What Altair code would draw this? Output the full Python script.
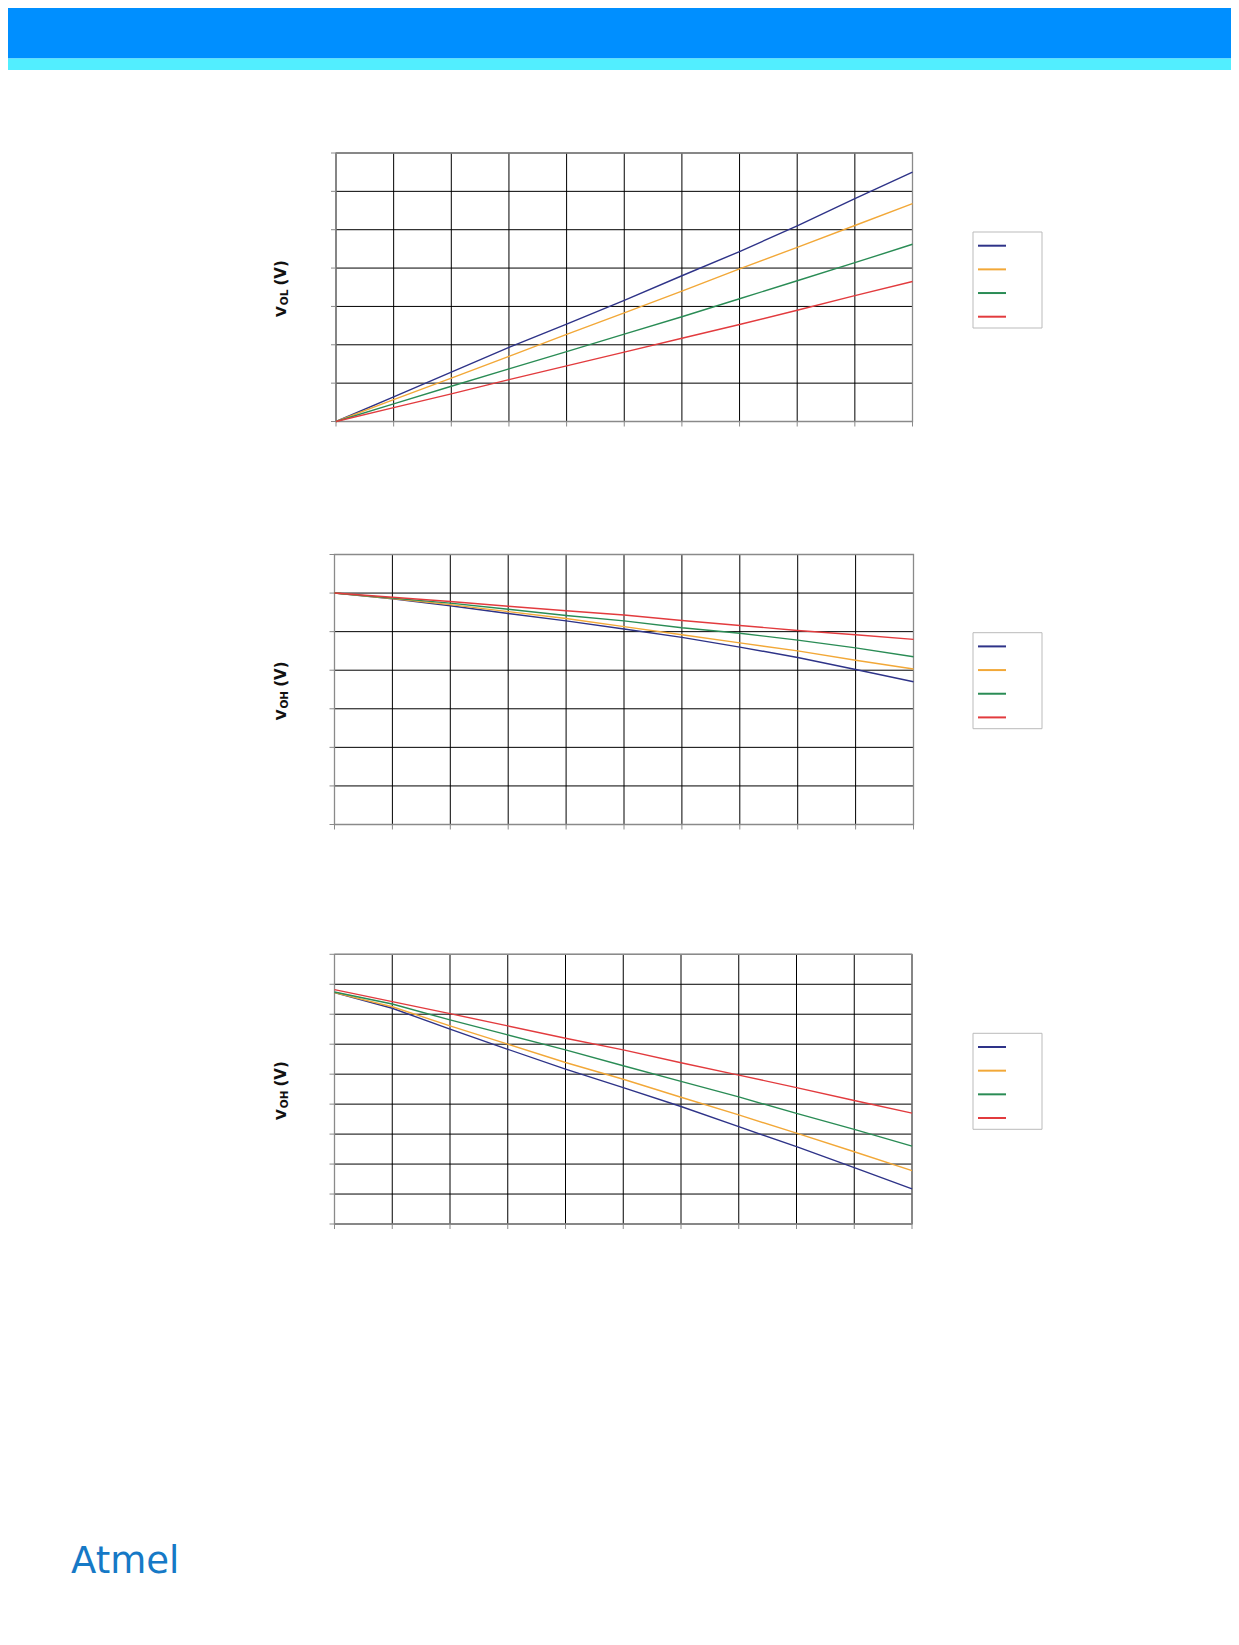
import altair as alt
import pandas as pd

# ---------------- data ----------------
series = ["125 °C", "85 °C", "25 °C", "-40 °C"]
series_idx = [0, 1, 2, 3]
colors = ["#2E3388", "#F2A838", "#2A8C55", "#E23B3E"]

# Chart 1: VOL vs IOL
iol = [0, 2, 4, 6, 8, 10, 12, 14, 16, 18, 20]
vol_125 = [0, 0.064, 0.129, 0.193, 0.254, 0.316, 0.380, 0.443, 0.510, 0.581, 0.650]
vol_85 = [0, 0.057, 0.113, 0.170, 0.227, 0.283, 0.340, 0.398, 0.454, 0.511, 0.568]
vol_25 = [0, 0.046, 0.092, 0.137, 0.182, 0.228, 0.273, 0.320, 0.367, 0.414, 0.462]
vol_m40 = [0, 0.036, 0.072, 0.109, 0.145, 0.181, 0.217, 0.253, 0.290, 0.328, 0.365]
vol_xticks = [0, 2, 4, 6, 8, 10, 12, 14, 16, 18, 20]
vol_yticks = [0, 0.1, 0.2, 0.3, 0.4, 0.5, 0.6, 0.7]

# Chart 2: VOH vs IOH (5 V)
ioh5 = [0, 2, 4, 6, 8, 10, 12, 14, 16, 18, 20]
voh5_125 = [5.0, 4.985, 4.967, 4.947, 4.928, 4.907, 4.885, 4.860, 4.833, 4.802, 4.770]
voh5_85 = [5.0, 4.986, 4.970, 4.952, 4.934, 4.913, 4.892, 4.871, 4.850, 4.826, 4.803]
voh5_25 = [5.0, 4.987, 4.974, 4.958, 4.942, 4.928, 4.910, 4.896, 4.878, 4.858, 4.835]
voh5_m40 = [5.0, 4.989, 4.978, 4.966, 4.954, 4.943, 4.929, 4.916, 4.903, 4.892, 4.880]
voh5_xticks = [0, 2, 4, 6, 8, 10, 12, 14, 16, 18, 20]
voh5_yticks = [4.4, 4.5, 4.6, 4.7, 4.8, 4.9, 5.0, 5.1]

# Chart 3: VOH vs IOH (3 V)
ioh3 = [0, 2, 4, 6, 8, 10, 12, 14, 16, 18, 20]
voh3_125 = [2.972, 2.920, 2.850, 2.783, 2.717, 2.655, 2.592, 2.525, 2.458, 2.388, 2.317]
voh3_85 = [2.972, 2.925, 2.861, 2.800, 2.739, 2.683, 2.623, 2.564, 2.503, 2.441, 2.378]
voh3_25 = [2.974, 2.934, 2.881, 2.831, 2.781, 2.728, 2.676, 2.624, 2.569, 2.516, 2.460]
voh3_m40 = [2.982, 2.942, 2.902, 2.861, 2.820, 2.781, 2.738, 2.697, 2.655, 2.612, 2.570]
voh3_xticks = [0, 2, 4, 6, 8, 10, 12, 14, 16, 18, 20]
voh3_yticks = [2.2, 2.3, 2.4, 2.5, 2.6, 2.7, 2.8, 2.9, 3.0, 3.1]

# ---------------- layout ----------------
W, H = 1223, 1600
OFF = 8  # page margin
GRID = "#000000"
GRAY = "#8A8A8A"
FONT = "DejaVu Sans"

one = pd.DataFrame({"a": [0]})
colsc = alt.Scale(domain=series, range=colors)


def c(v):
    return v - OFF


def long_df(xs, ys_list):
    rows = []
    for s, ys in zip(series, ys_list):
        for x, y in zip(xs, ys):
            rows.append({"x": x, "y": y, "series": s})
    return pd.DataFrame(rows)


def legend_df():
    rows = []
    for s, i in zip(series, series_idx):
        for p in (0, 1):
            rows.append({"series": s, "idx": i, "p": p})
    return pd.DataFrame(rows)


def panel(xs, ys_list, xticks, yticks, box, leg_top, title_sub, title_center):
    x0, x1, yt, yb = [c(v) for v in box]
    xsc = alt.Scale(domain=[xticks[0], xticks[-1]], range=[x0, x1], nice=False, zero=False)
    ysc = alt.Scale(domain=[yticks[0], yticks[-1]], range=[yb, yt], nice=False, zero=False)
    layers = []
    ydf = pd.DataFrame({"v": yticks})
    xdf = pd.DataFrame({"v": xticks})
    layers.append(alt.Chart(ydf).mark_rule(color=GRID, strokeWidth=1).encode(
        y=alt.Y("v:Q", scale=ysc, axis=None), x=alt.value(x0), x2=alt.value(x1)))
    layers.append(alt.Chart(xdf).mark_rule(color=GRID, strokeWidth=1).encode(
        x=alt.X("v:Q", scale=xsc, axis=None), y=alt.value(yt), y2=alt.value(yb)))
    layers.append(alt.Chart(ydf).mark_rule(color=GRAY, strokeWidth=1).encode(
        y=alt.Y("v:Q", scale=ysc, axis=None), x=alt.value(x0 - 5), x2=alt.value(x0)))
    layers.append(alt.Chart(xdf).mark_rule(color=GRAY, strokeWidth=1).encode(
        x=alt.X("v:Q", scale=xsc, axis=None), y=alt.value(yb), y2=alt.value(yb + 5)))
    layers.append(alt.Chart(one).mark_rect(fillOpacity=0, stroke=GRAY, strokeWidth=1.3).encode(
        x=alt.value(x0), x2=alt.value(x1), y=alt.value(yt), y2=alt.value(yb)))
    layers.append(alt.Chart(long_df(xs, ys_list)).mark_line(strokeWidth=1.4).encode(
        x=alt.X("x:Q", scale=xsc, axis=None),
        y=alt.Y("y:Q", scale=ysc, axis=None),
        color=alt.Color("series:N", scale=colsc, legend=None)))
    # legend box and swatches
    lt = c(leg_top)
    layers.append(alt.Chart(one).mark_rect(fillOpacity=0, stroke="#BBBBBB", strokeWidth=1).encode(
        x=alt.value(c(973)), x2=alt.value(c(1042)), y=alt.value(lt), y2=alt.value(lt + 96)))
    layers.append(alt.Chart(legend_df()).mark_line(strokeWidth=2).encode(
        x=alt.X("p:Q", scale=alt.Scale(domain=[0, 1], range=[c(978), c(1006)], nice=False, zero=False), axis=None),
        y=alt.Y("idx:Q", scale=alt.Scale(domain=[0, 3], range=[lt + 13.7, lt + 84.7], nice=False, zero=False), axis=None),
        color=alt.Color("series:N", scale=colsc, legend=None)))
    # axis title V_sub (V)
    cc = c(title_center)
    extra = 1.0 if title_sub == "OH" else 0.0
    layers.append(alt.Chart(one).mark_text(text="V", angle=270, align="left", baseline="alphabetic",
                                           font=FONT, fontWeight="bold", fontSize=14, color="#111111").encode(
        x=alt.value(c(286)), y=alt.value(cc + 28.5 + extra)))
    layers.append(alt.Chart(one).mark_text(text=title_sub, angle=270, align="left", baseline="alphabetic",
                                           font=FONT, fontWeight="bold", fontSize=10.5, color="#111111").encode(
        x=alt.value(c(287.5)), y=alt.value(cc + 16.8 + extra)))
    layers.append(alt.Chart(one).mark_text(text="(V)", angle=270, align="left", baseline="alphabetic",
                                           font=FONT, fontWeight="bold", fontSize=15, color="#111111").encode(
        x=alt.value(c(286)), y=alt.value(cc - 3 - extra)))
    return layers


layers = []
# header bands
layers.append(alt.Chart(one).mark_rect(fill="#008FFF").encode(
    x=alt.value(0), x2=alt.value(W), y=alt.value(0), y2=alt.value(c(58.5))))
layers.append(alt.Chart(one).mark_rect(fill="#52EEFF").encode(
    x=alt.value(0), x2=alt.value(W), y=alt.value(c(58.5)), y2=alt.value(c(70))))

layers += panel(iol, [vol_125, vol_85, vol_25, vol_m40], vol_xticks, vol_yticks,
                (336, 912.5, 153, 421.5), 232, "OL", 288.5)
layers += panel(ioh5, [voh5_125, voh5_85, voh5_25, voh5_m40], voh5_xticks, voh5_yticks,
                (334.5, 913.5, 554.5, 824.5), 632.7, "OH", 690.8)
layers += panel(ioh3, [voh3_125, voh3_85, voh3_25, voh3_m40], voh3_xticks, voh3_yticks,
                (334.5, 912, 954.3, 1224), 1033.3, "OH", 1090.5)

# logo
layers.append(alt.Chart(one).mark_text(text="Atmel", align="left", baseline="alphabetic",
                                       font=FONT, fontSize=37, fontWeight=500, color="#1679C6").encode(
    x=alt.value(c(71)), y=alt.value(c(1573))))

chart = alt.layer(*layers).resolve_scale(x="independent", y="independent").properties(
    width=W, height=H, autosize=alt.AutoSizeParams(type="none"), padding=0
).configure_view(stroke=None)

chart.save("out.html", embed_options={"renderer": "svg", "actions": False})
